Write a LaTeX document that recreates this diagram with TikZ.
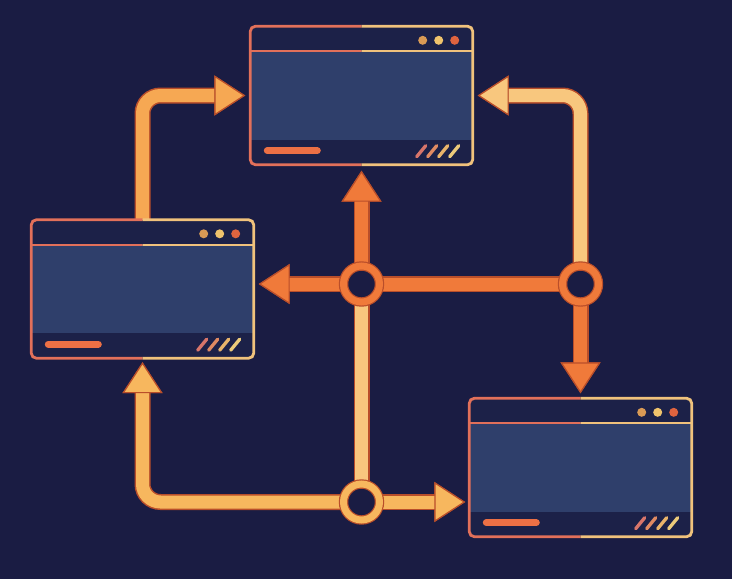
\documentclass[tikz,border=0pt]{standalone}
\usepackage{tikz}
\usetikzlibrary{arrows.meta, calc}
\definecolor{bgnavy}{HTML}{1A1C43}
\definecolor{winnavy}{HTML}{1C2148}
\definecolor{slate}{HTML}{2F3F6B}
\definecolor{rimleft}{HTML}{E2705A}
\definecolor{rimright}{HTML}{F0C27C}
\definecolor{edge}{HTML}{B94E2A}
\definecolor{orangec}{HTML}{F07A3A}
\definecolor{lightorg}{HTML}{F6A853}
\definecolor{softorg}{HTML}{F7B75E}
\definecolor{paleorg}{HTML}{F8C77E}
\definecolor{dotamber}{HTML}{D99A55}
\definecolor{dotpale}{HTML}{EFC36C}
\definecolor{dotred}{HTML}{E0643F}
\definecolor{barred}{HTML}{EC7045}
\definecolor{slashA}{HTML}{D8756A}
\definecolor{slashB}{HTML}{E08A62}
\definecolor{slashC}{HTML}{E9B46A}
\definecolor{slashD}{HTML}{EDCB7A}
\pgfdeclarelayer{back}
\pgfdeclarelayer{lines}
\pgfsetlayers{back,lines,main}

\newcommand{\appwin}[2]{%
  \node[app_window] (#1) at (#2) {};
  \fill[slate] ([yshift=-25pt]#1.north west) rectangle ([yshift=25pt]#1.south east);
  \begin{scope}
    \clip ([xshift=-5pt,yshift=5pt]#1.north west) rectangle ([yshift=-5pt]#1.south);
    \draw[rim, rimleft] (#1.north west) rectangle (#1.south east);
    \draw[line width=2.2pt, rimleft] ([yshift=-25pt]#1.north west) -- ([yshift=-25pt]#1.north east);
  \end{scope}
  \begin{scope}
    \clip ([yshift=5pt]#1.north) rectangle ([xshift=5pt,yshift=-5pt]#1.south east);
    \draw[rim, rimright] (#1.north west) rectangle (#1.south east);
    \draw[line width=2.2pt, rimright] ([yshift=-25pt]#1.north west) -- ([yshift=-25pt]#1.north east);
  \end{scope}
  \fill[dotamber] ([xshift=-50pt,yshift=-14pt]#1.north east) circle (4.5pt);
  \fill[dotpale] ([xshift=-34pt,yshift=-14pt]#1.north east) circle (4.5pt);
  \fill[dotred] ([xshift=-18pt,yshift=-14pt]#1.north east) circle (4.5pt);
  \draw[barred, line width=7pt, line cap=round] ([xshift=17pt,yshift=14pt]#1.south west) -- ([xshift=67pt,yshift=14pt]#1.south west);
  \foreach \i/\slashcol in {0/slashA,1/slashB,2/slashC,3/slashD}
    \draw[\slashcol, line width=3.3pt, line cap=round] ([xshift={(-56+11*\i)*1pt},yshift=8pt]#1.south east) -- ++(9,-11);
}

\begin{document}
\begin{tikzpicture}[x=1pt, y=-1pt,
  app_window/.style={rectangle, rounded corners=5pt, minimum width=222pt, minimum height=138pt, inner sep=0pt, fill=winnavy},
  rim/.style={line width=2.8pt, rounded corners=5pt},
  junction/.style={circle, inner sep=0pt, minimum size=36pt, fill=bgnavy, draw=edge, line width=1.2pt, double=#1, double distance=7pt},
  flow_line/.style={line width=13pt, draw=#1, rounded corners=18pt, preaction={draw=edge, line width=16pt}},
  flow_arrow/.style={line width=13pt, draw=#1, rounded corners=18pt, -{Triangle[width=40pt,length=31pt,line width=1.2pt,color=edge,fill=#1]},
    preaction={draw=edge, line width=16pt, -{Triangle[width=40pt,length=31pt,line width=1.2pt,color=edge,fill=edge]}}}]
  \useasboundingbox (0,0) rectangle (732,579);
  \begin{pgfonlayer}{back}
    \fill[bgnavy] (0,0) rectangle (732,579);
  \end{pgfonlayer}

  \appwin{wtop}{361.5,95.5}
  \appwin{wleft}{142.5,289}
  \appwin{wright}{580.5,467.5}

  \node[junction=orangec] (jl) at (361.5,284) {};
  \node[junction=orangec] (jr) at (580.5,284) {};
  \node[junction=softorg] (jb) at (361.5,502) {};

  \begin{pgfonlayer}{lines}
    \draw[flow_arrow=lightorg] (wleft.north) |- ([xshift=-5pt]wtop.west);
    \draw[flow_arrow=paleorg] (jr) |- ([xshift=5pt]wtop.east);
    \draw[flow_line=orangec] (jr) -- (jl);
    \draw[flow_arrow=orangec] (jl) -- ($(wleft.east |- jl)+(5,0)$);
    \draw[flow_arrow=orangec] (jl) -- ([yshift=-6pt]wtop.south);
    \draw[flow_arrow=orangec] (jr) -- ([yshift=5pt]wright.north);
    \draw[flow_line=paleorg] (jl) -- (jb);
    \draw[flow_arrow=softorg] (jb) -| ([yshift=-4pt]wleft.south);
    \draw[flow_arrow=softorg] (jb) -- ($(wright.west |- jb)+(-4,0)$);
  \end{pgfonlayer}
\end{tikzpicture}
\end{document}
